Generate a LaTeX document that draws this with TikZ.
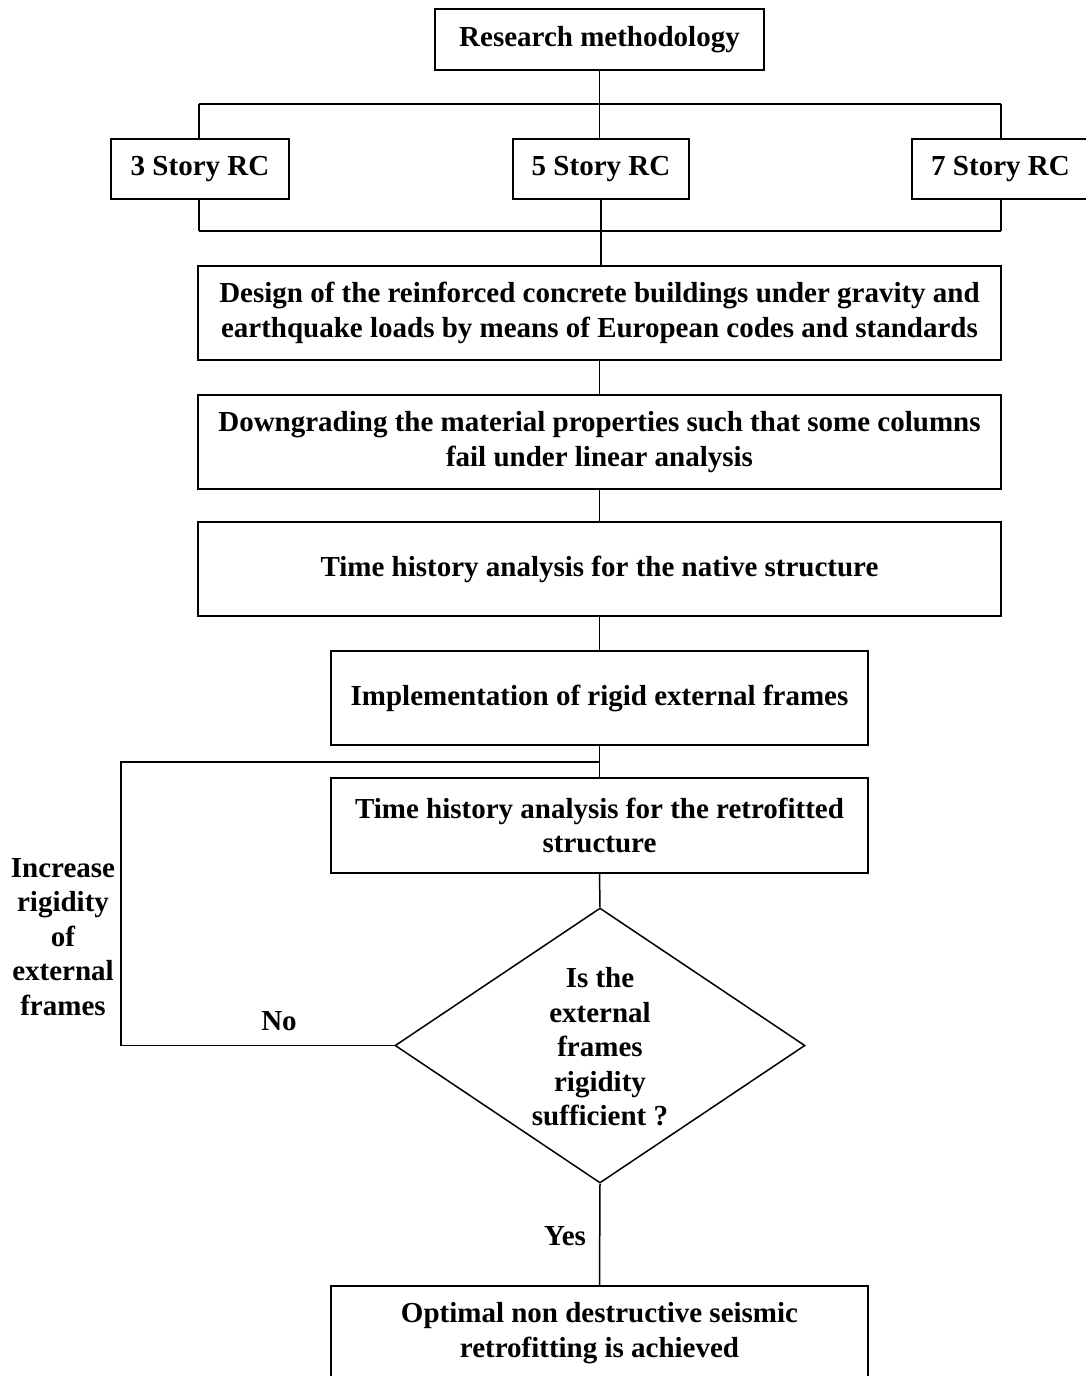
\documentclass[tikz,border=0pt]{standalone}
\usepackage{fontspec}
\setmainfont{Liberation Serif}
\usetikzlibrary{shapes.geometric}
\begin{document}
\begin{tikzpicture}[x=1pt,y=-1pt,
  box/.style={draw,line width=1.5pt,inner sep=0pt,align=center,
    font=\bfseries\fontsize{29}{34.5}\selectfont},
  lbl/.style={inner sep=0pt,align=center,font=\bfseries\fontsize{29}{34.5}\selectfont},
  conn/.style={line width=1.5pt}]
\useasboundingbox (0,0) rectangle (1086,1376);
\clip (0,0) rectangle (1086,1376);
\node[box,minimum width=329,minimum height=61] (rm) at (599.5,39.5) {Research methodology};
\node[box,minimum width=178,minimum height=60] (s3) at (200,169) {3 Story RC};
\node[box,minimum width=176,minimum height=60] (s5) at (601,169) {5 Story RC};
\node[box,minimum width=177,minimum height=60] (s7) at (1000.5,169) {7 Story RC};
\node[box,minimum width=803,minimum height=94] (des) at (599.5,313) {Design of the reinforced concrete buildings under gravity and\\earthquake loads by means of European codes and standards};
\node[box,minimum width=803,minimum height=94] (down) at (599.5,442) {Downgrading the material properties such that some columns\\fail under linear analysis};
\node[box,minimum width=803,minimum height=94] (thn) at (599.5,569) {Time history analysis for the native structure};
\node[box,minimum width=537,minimum height=94] (imp) at (599.5,698) {Implementation of rigid external frames};
\node[box,minimum width=537,minimum height=95] (thr) at (599.5,825.5) {Time history analysis for the retrofitted\\structure};
\node[draw,line width=1.5pt,shape=diamond,inner sep=0pt,minimum width=410,minimum height=275] (dia) at (600,1045.5) {};
\node[lbl] (diat) at (600,1047) {Is the\\external\\frames\\rigidity\\sufficient ?};
\node[box,minimum width=537,minimum height=140,anchor=north] (opt) at (599.5,1285) {};
\node[lbl] (optt) at (599.5,1333) {Optimal non destructive seismic\\retrofitting is achieved};
\node[lbl] (inc) at (63,937) {Increase\\rigidity\\of\\external\\frames};
\node[lbl] (no) at (279,1021) {No};
\node[lbl] (yes) at (565,1236) {Yes};
\coordinate (l1) at (199,104);
\coordinate (r1) at (1001,104);
\coordinate (l2) at (199,231);
\coordinate (r2) at (1001,231);
\coordinate (lp) at (600,762);
\coordinate (lp1) at (121,762);
\coordinate (lp2) at (121,1045.5);
\draw[conn] (rm.south) -- (s5.north -| rm.south);
\draw[conn] (l1) -- (r1);
\draw[conn] (l1) -- (l1 |- s3.north);
\draw[conn] (r1) -- (r1 |- s7.north);
\draw[conn] (l2) -- (r2);
\draw[conn] (l2) -- (l2 |- s3.south);
\draw[conn] (r2) -- (r2 |- s7.south);
\draw[conn] (s5.south) -- (des.north -| s5.south);
\draw[conn] (des) -- (down);
\draw[conn] (down) -- (thn);
\draw[conn] (thn) -- (imp);
\draw[conn] (imp) -- (thr);
\draw[conn] (thr.south) -- (dia.north);
\draw[conn] (lp) -- (lp1) -- (lp2) -- (dia.west);
\draw[conn] (dia.south) -- (opt.north);
\end{tikzpicture}
\end{document}
